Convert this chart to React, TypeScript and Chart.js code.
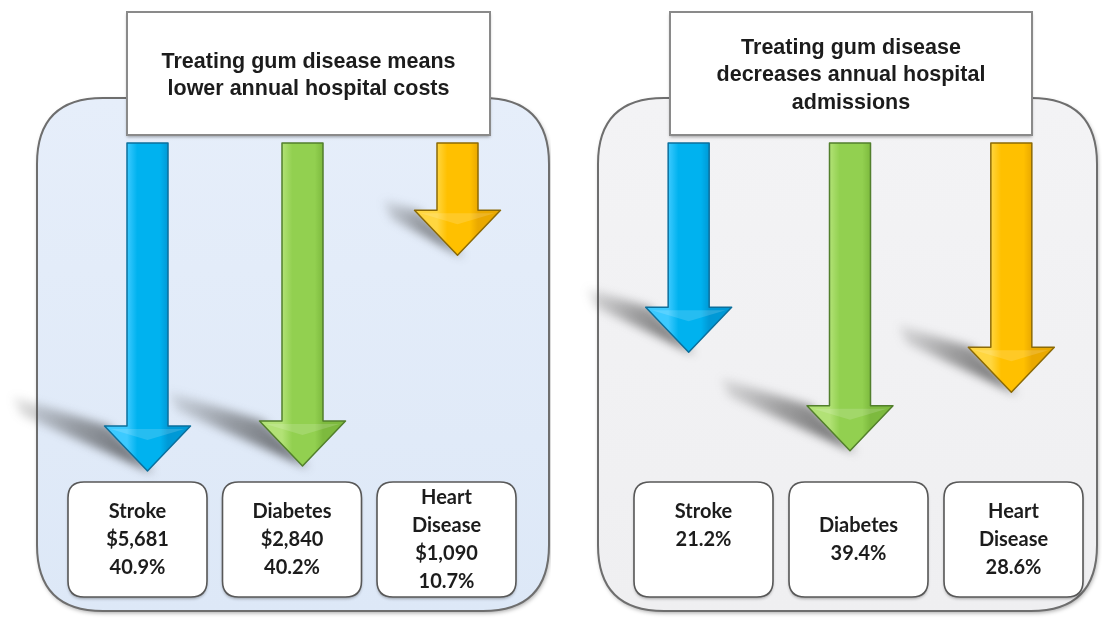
import React, { useEffect, useRef } from 'react';
import { Chart, registerables } from 'chart.js';

Chart.register(...registerables);

// ---------- data ----------
const categories = ['Stroke', 'Diabetes', 'Heart Disease'];
const costSavings = ['$5,681', '$2,840', '$1,090'];
const costReductionPct = [40.9, 40.2, 10.7];
const admissionReductionPct = [21.2, 39.4, 28.6];
const costTitle = ['Treating gum disease means', 'lower annual hospital costs'];
const admissionTitle = ['Treating gum disease', 'decreases annual hospital', 'admissions'];

// ---------- styles ----------
const ARROW_COLORS = [
  { light: '#3ccaff', mid: '#00b2ef', dark: '#0099d6', edge: '#0b6f9c' },
  { light: '#b2e276', mid: '#92d050', dark: '#7dba3e', edge: '#527f2c' },
  { light: '#ffd640', mid: '#ffc000', dark: '#eaa900', edge: '#8c6a05' },
];

type PanelStyle = {
  panel: { x: number; y: number; w: number; h: number; r: number; fill: [string, string] };
  title: { x: number; y: number; w: number; h: number; firstLine: number };
  boxes: { x0: number; w: number; gap: number; y: number; h: number };
  textShift: number[];
};

const LEFT_STYLE: PanelStyle = {
  panel: { x: 37, y: 98, w: 512, h: 513, r: 66, fill: ['#e6eefa', '#dde8f7'] },
  title: { x: 127, y: 12, w: 363, h: 123, firstLine: 62 },
  boxes: { x0: 68, w: 139, gap: 15.5, y: 482, h: 115 },
  textShift: [0, 0, 0],
};
const RIGHT_STYLE: PanelStyle = {
  panel: { x: 47, y: 98, w: 499, h: 513, r: 66, fill: ['#f3f3f5', '#efeff1'] },
  title: { x: 119, y: 12, w: 362, h: 123, firstLine: 48 },
  boxes: { x0: 83, w: 139, gap: 16, y: 482, h: 115 },
  textShift: [-14, 0, 0],
};

function rr(ctx: CanvasRenderingContext2D, x: number, y: number, w: number, h: number, r: number) {
  ctx.beginPath();
  ctx.moveTo(x + r, y);
  ctx.lineTo(x + w - r, y);
  ctx.quadraticCurveTo(x + w, y, x + w, y + r);
  ctx.lineTo(x + w, y + h - r);
  ctx.quadraticCurveTo(x + w, y + h, x + w - r, y + h);
  ctx.lineTo(x + r, y + h);
  ctx.quadraticCurveTo(x, y + h, x, y + h - r);
  ctx.lineTo(x, y + r);
  ctx.quadraticCurveTo(x, y, x + r, y);
  ctx.closePath();
}

function makePlugin(style: PanelStyle, titleLines: string[], boxLines: string[][]) {
  return {
    id: 'infographic',
    afterDraw(chart: any) {
      const ctx: CanvasRenderingContext2D = chart.ctx;
      const area = chart.chartArea;
      ctx.save();
      // panel
      const p = style.panel;
      ctx.save();
      ctx.shadowColor = 'rgba(0,0,0,0.35)';
      ctx.shadowBlur = 4;
      ctx.shadowOffsetX = 1;
      ctx.shadowOffsetY = 2;
      rr(ctx, p.x, p.y, p.w, p.h, p.r);
      const pg = ctx.createLinearGradient(0, p.y, 0, p.y + p.h);
      pg.addColorStop(0, p.fill[0]);
      pg.addColorStop(1, p.fill[1]);
      ctx.fillStyle = pg;
      ctx.fill();
      ctx.restore();
      rr(ctx, p.x, p.y, p.w, p.h, p.r);
      ctx.strokeStyle = '#6e6e6e';
      ctx.lineWidth = 2;
      ctx.stroke();

      // title box
      const t = style.title;
      ctx.save();
      ctx.shadowColor = 'rgba(0,0,0,0.35)';
      ctx.shadowBlur = 3;
      ctx.shadowOffsetY = 2;
      ctx.fillStyle = '#ffffff';
      ctx.fillRect(t.x, t.y, t.w, t.h);
      ctx.restore();
      ctx.strokeStyle = '#8a8a8a';
      ctx.lineWidth = 2;
      ctx.strokeRect(t.x, t.y, t.w, t.h);
      ctx.fillStyle = '#1c1c1c';
      ctx.font = 'bold 21.5px "Liberation Sans", Arial, sans-serif';
      ctx.textAlign = 'center';
      ctx.textBaseline = 'middle';
      titleLines.forEach((line, i) => {
        ctx.fillText(line, t.x + t.w / 2, t.firstLine + i * 27.5);
      });

      // label boxes
      const b = style.boxes;
      boxLines.forEach((lines, i) => {
        const bx = b.x0 + i * (b.w + b.gap);
        ctx.save();
        ctx.shadowColor = 'rgba(0,0,0,0.3)';
        ctx.shadowBlur = 3;
        ctx.shadowOffsetY = 2;
        rr(ctx, bx, b.y, b.w, b.h, 16);
        ctx.fillStyle = '#ffffff';
        ctx.fill();
        ctx.restore();
        rr(ctx, bx, b.y, b.w, b.h, 16);
        ctx.strokeStyle = '#585858';
        ctx.lineWidth = 1.6;
        ctx.stroke();
        ctx.fillStyle = '#1c1c1c';
        ctx.font = 'bold 20px Lato, "Open Sans", sans-serif';
        const lh = 27.8;
        const cy = b.y + b.h / 2 + style.textShift[i];
        const start = cy - ((lines.length - 1) * lh) / 2;
        lines.forEach((ln, j) => ctx.fillText(ln, bx + b.w / 2, start + j * lh));
      });

      // arrows
      const meta = chart.getDatasetMeta(0);
      const top = area.top;
      const headW = 86;
      const headH = 45;
      meta.data.forEach((el: any) => {
        const cx = el.x;
        const tip = el.y;
        const len = tip - top;
        const L = 0.28 * len;
        const rise = 0.32 * L;
        const hl = cx - headW / 2;
        const ht = tip - headH;
        ctx.save();
        ctx.filter = 'blur(5px)';
        const g = ctx.createLinearGradient(cx, tip, hl - L, ht - rise);
        g.addColorStop(0, 'rgba(40,40,40,0.7)');
        g.addColorStop(0.55, 'rgba(60,60,60,0.45)');
        g.addColorStop(1, 'rgba(80,80,80,0.12)');
        ctx.beginPath();
        ctx.moveTo(hl - L, ht - rise);
        ctx.lineTo(hl + 4, ht);
        ctx.lineTo(cx + 6, tip + 2);
        ctx.lineTo(hl - L + 8, ht - rise + 18);
        ctx.closePath();
        ctx.fillStyle = g;
        ctx.fill();
        ctx.restore();
      });
      meta.data.forEach((el: any, i: number) => {
        const col = ARROW_COLORS[i];
        const cx = el.x;
        const tip = el.y;
        const sw = el.width;
        const sl = cx - sw / 2;
        const sr = cx + sw / 2;
        const hl = cx - headW / 2;
        const hr = cx + headW / 2;
        const ht = tip - headH;
        ctx.beginPath();
        ctx.moveTo(sl, top);
        ctx.lineTo(sr, top);
        ctx.lineTo(sr, ht);
        ctx.lineTo(hr, ht);
        ctx.lineTo(cx, tip);
        ctx.lineTo(hl, ht);
        ctx.lineTo(sl, ht);
        ctx.closePath();
        const g = ctx.createLinearGradient(sl, 0, sr, 0);
        g.addColorStop(0, col.light);
        g.addColorStop(0.25, col.mid);
        g.addColorStop(0.8, col.mid);
        g.addColorStop(1, col.dark);
        ctx.fillStyle = g;
        ctx.fill();
        ctx.strokeStyle = col.edge;
        ctx.lineWidth = 1.5;
        ctx.lineJoin = 'round';
        ctx.stroke();
        // head bevel highlight
        ctx.beginPath();
        ctx.moveTo(hl + 6, ht + 3);
        ctx.lineTo(hr - 6, ht + 3);
        ctx.lineTo(cx, ht + 14);
        ctx.closePath();
        ctx.fillStyle = 'rgba(255,255,255,0.15)';
        ctx.fill();
      });
      ctx.restore();
    },
  };
}

function makeChart(
  canvas: HTMLCanvasElement,
  values: number[],
  yMin: number,
  padding: { left: number; right: number; top: number; bottom: number },
  style: PanelStyle,
  titleLines: string[],
  boxLines: string[][]
) {
  return new Chart(canvas, {
    type: 'bar',
    data: {
      labels: categories,
      datasets: [
        {
          data: values,
          backgroundColor: 'rgba(0,0,0,0)',
          borderWidth: 0,
          barThickness: 41,
        },
      ],
    },
    options: {
      responsive: false,
      animation: false,
      events: [],
      layout: { padding },
      plugins: { legend: { display: false }, tooltip: { enabled: false } },
      scales: {
        x: { display: false, offset: true },
        y: { display: false, reverse: true, min: yMin, max: 50 },
      },
    },
    plugins: [makePlugin(style, titleLines, boxLines)],
  });
}

export default function App() {
  const leftRef = useRef<HTMLCanvasElement>(null);
  const rightRef = useRef<HTMLCanvasElement>(null);

  useEffect(() => {
    const leftLines = categories.map((c, i) => [
      ...c.split(' '),
      costSavings[i],
      costReductionPct[i].toFixed(1) + '%',
    ]);
    const rightLines = categories.map((c, i) => [
      ...c.split(' '),
      admissionReductionPct[i].toFixed(1) + '%',
    ]);
    const c1 = makeChart(
      leftRef.current!,
      costReductionPct,
      -5,
      { left: 70, right: 16, top: 143, bottom: 84 },
      LEFT_STYLE,
      costTitle,
      leftLines
    );
    const c2 = makeChart(
      rightRef.current!,
      admissionReductionPct,
      -17.5,
      { left: 57, right: 10, top: 143, bottom: 112 },
      RIGHT_STYLE,
      admissionTitle,
      rightLines
    );
    return () => {
      c1.destroy();
      c2.destroy();
    };
  }, []);

  return (
    <div
      style={{
        position: 'absolute',
        left: 0,
        top: 0,
        width: 1102,
        height: 620,
        display: 'flex',
        background: '#ffffff',
      }}
    >
      <canvas ref={leftRef} width={551} height={620} style={{ width: 551, height: 620, display: 'block' }} />
      <canvas ref={rightRef} width={551} height={620} style={{ width: 551, height: 620, display: 'block' }} />
    </div>
  );
}
